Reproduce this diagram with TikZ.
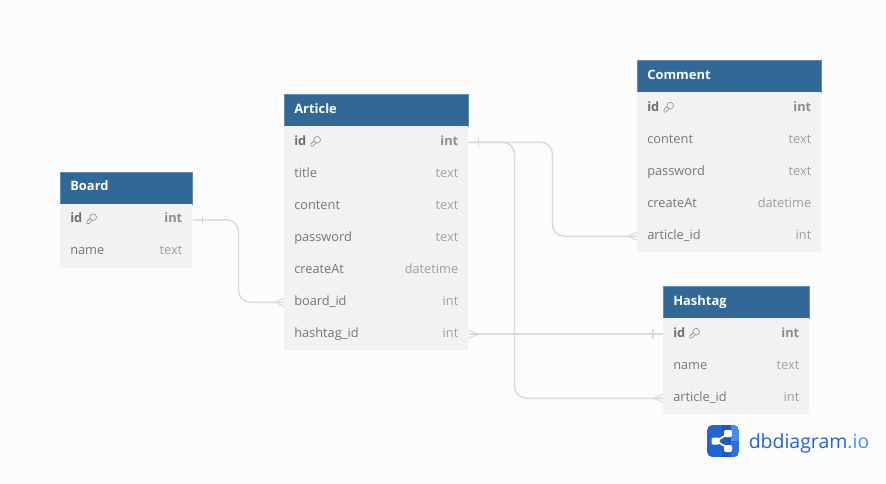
\documentclass[tikz,border=0pt]{standalone}
\usepackage{fontspec}
\setmainfont{Open Sans}
\usetikzlibrary{calc}
\definecolor{pagebg}{HTML}{FCFCFC}
\definecolor{headbg}{HTML}{316896}
\definecolor{headln}{HTML}{5F8CB2}
\definecolor{rowbg}{HTML}{F2F2F2}
\definecolor{namecol}{HTML}{757575}
\definecolor{typecol}{HTML}{9E9E9E}
\definecolor{boldcol}{HTML}{6E6E6E}
\definecolor{boldtype}{HTML}{8C8C8C}
\definecolor{linkcol}{HTML}{DADADA}
\definecolor{logod}{HTML}{2563D2}
\definecolor{logom}{HTML}{1F58BE}
\definecolor{logol}{HTML}{488CF2}
\tikzset{
  x=0.75pt,y=-0.75pt,
  headbox/.style={fill=headbg,draw=headln,line width=0.2pt,inner sep=0pt,anchor=north west,minimum height=24pt},
  headtext/.style={anchor=base west,inner sep=0pt,text=white,font=\fontsize{9.7pt}{11pt}\selectfont\bfseries},
  rowbox/.style={fill=rowbg,draw=none,inner sep=0pt,anchor=north west,minimum height=24pt},
  fname/.style={anchor=base west,inner sep=0pt,text=namecol,font=\fontsize{9.6pt}{11pt}\selectfont},
  ftype/.style={anchor=base east,inner sep=0pt,text=typecol,font=\fontsize{9.6pt}{11pt}\selectfont},
  fnameb/.style={fname,text=boldcol,font=\fontsize{9.6pt}{11pt}\selectfont\bfseries},
  ftypeb/.style={ftype,text=boldtype,font=\fontsize{9.6pt}{11pt}\selectfont\bfseries},
  link/.style={draw=linkcol,line width=1.1pt,rounded corners=9pt},
  straight link/.style={draw=linkcol,line width=1.3pt},
  mark line/.style={draw=linkcol,line width=0.8pt},
  keyline/.style={draw=boldtype,line width=0.45pt,line join=round},
}
\newcommand{\dbhead}[5]{%
  \node[headbox,minimum width=#5*0.75pt] (#1) at (#3,#4) {};
  \node[headtext] (#1-title) at ($(#1.west)+(10,3)$) {#2};}
\newcommand{\dbrow}[6]{%
  \node[rowbox,minimum width=#6*0.75pt] (#1) at (#4,#5) {};
  \node[fname] (#1-n) at ($(#1.west)+(10,3)$) {#2};
  \node[ftype] (#1-t) at ($(#1.east)+(-10,3)$) {#3};}
\newcommand{\dbkey}[4]{%
  \node[rowbox,minimum width=#4*0.75pt] (#1) at (#2,#3) {};
  \node[fnameb] (#1-n) at ($(#1.west)+(10,3)$) {id};
  \node[ftypeb] (#1-t) at ($(#1.east)+(-10,3)$) {int};
  \draw[keyline] ($(#1.west)+(30.8,-2.2)$) -- ($(#1.west)+(26.9,1.7)$) -- ($(#1.west)+(26.9,3.7)$)
     -- ($(#1.west)+(29,3.7)$) -- ($(#1.west)+(32.8,-0.1)$);
  \draw[keyline,fill=rowbg] ($(#1.west)+(33.2,-2.6)$) circle[radius=2.5pt];}
\begin{document}
\begin{tikzpicture}
\useasboundingbox (0,0) rectangle (886,483);
\fill[pagebg] (0,0) rectangle (886,483);

% Board
\dbhead{board}{Board}{60}{171.5}{132}
\dbkey{board-id}{60}{203.5}{132}
\dbrow{board-name}{name}{text}{60}{235.5}{132}

% Article
\dbhead{article}{Article}{284}{94}{184}
\dbkey{article-id}{284}{126}{184}
\dbrow{article-title}{title}{text}{284}{158}{184}
\dbrow{article-content}{content}{text}{284}{190}{184}
\dbrow{article-password}{password}{text}{284}{222}{184}
\dbrow{article-createat}{createAt}{datetime}{284}{254}{184}
\dbrow{article-board}{board\_id}{int}{284}{286}{184}
\dbrow{article-hashtag}{hashtag\_id}{int}{284}{318}{184}

% Comment
\dbhead{comment}{Comment}{637}{60}{184}
\dbkey{comment-id}{637}{92}{184}
\dbrow{comment-content}{content}{text}{637}{124}{184}
\dbrow{comment-password}{password}{text}{637}{156}{184}
\dbrow{comment-createat}{createAt}{datetime}{637}{188}{184}
\dbrow{comment-article}{article\_id}{int}{637}{220}{184}

% Hashtag
\dbhead{hashtag}{Hashtag}{663}{286}{146}
\dbkey{hashtag-id}{663}{318}{146}
\dbrow{hashtag-name}{name}{text}{663}{350}{146}
\dbrow{hashtag-article}{article\_id}{int}{663}{382}{146}

% Connectors
\coordinate (boardout) at (board-id.east);
\coordinate (boardin) at (article-board.west);
\coordinate (artout) at (article-id.east);
\coordinate (comin) at (comment-article.west);
\coordinate (hasharts) at (hashtag-article.west);
\coordinate (artbot) at (article-hashtag.east);
\coordinate (hashid) at (hashtag-id.west);

\draw[link] (boardout) -- (boardout -| 238.5,0) -- (boardin -| 238.5,0) -- (boardin);
\draw[link] (artout) -- (artout -| 552.5,0) -- (comin -| 552.5,0) -- (comin);
\draw[link] (artout) -- (artout -| 514.5,0) -- (hasharts -| 514.5,0) -- (hasharts);
\draw[straight link] (artbot) -- (hashid);

% one ends
\draw[mark line] ($(boardout)+(10,-5)$) -- ($(boardout)+(10,5)$);
\draw[mark line] ($(artout)+(10,-5)$) -- ($(artout)+(10,5)$);
\draw[mark line] ($(hashid)+(-10,-5)$) -- ($(hashid)+(-10,5)$);
% many ends
\draw[mark line] ($(boardin)+(-9,0)$) -- ($(boardin)+(0,-4)$) ($(boardin)+(-9,0)$) -- ($(boardin)+(0,4)$);
\draw[mark line] ($(comin)+(-9,0)$) -- ($(comin)+(0,-4)$) ($(comin)+(-9,0)$) -- ($(comin)+(0,4)$);
\draw[mark line] ($(hasharts)+(-9,0)$) -- ($(hasharts)+(0,-4)$) ($(hasharts)+(-9,0)$) -- ($(hasharts)+(0,4)$);
\draw[mark line] ($(artbot)+(10,0)$) -- ($(artbot)+(0,-4)$) ($(artbot)+(10,0)$) -- ($(artbot)+(0,4)$);

% Logo
\begin{scope}
\clip[rounded corners=4pt] (707,425) rectangle (739,457);
\fill[logod] (707,425) rectangle (739,457);
\fill[logom] (722,425) rectangle (731,457);
\fill[logol] (731,425) rectangle (739,441);
\fill[logod!70!logol] (731,441) rectangle (739,457);
\end{scope}
\draw[white,line width=1.3pt] (716,441) -- (728,434) (716,441) -- (728,448);
\fill[white,rounded corners=1pt] (711.5,437.5) rectangle (719.5,444.5);
\fill[white,rounded corners=1pt] (724,430) rectangle (732,437);
\fill[white,rounded corners=1pt] (724,445) rectangle (732,452);
\node[anchor=base west,inner sep=0pt,font=\fontsize{14.6pt}{18pt}\selectfont] (logotext) at (748.5,448)
  {\textcolor{logod}{dbdiagram}\textcolor{logol}{.io}};
\end{tikzpicture}
\end{document}
